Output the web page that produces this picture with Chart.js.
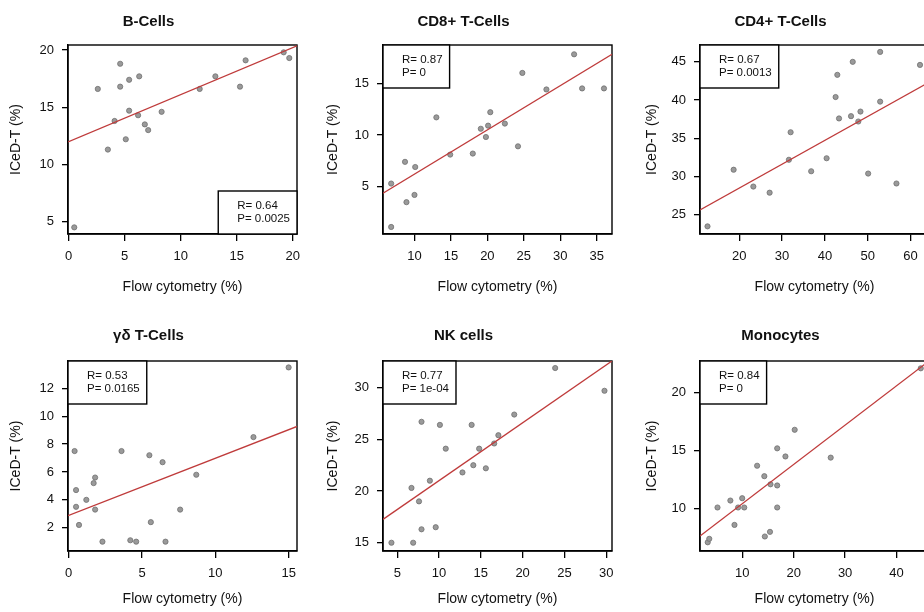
<!DOCTYPE html>
<html>
<head>
<meta charset="utf-8">
<script src="https://cdn.jsdelivr.net/npm/chart.js@4.4.1/dist/chart.umd.min.js"></script>
<style>
  body { margin: 0; width: 924px; height: 612px; overflow: hidden; background: #fff; position: relative; }
  canvas { position: absolute; }
</style>
</head>
<body>
<canvas id="p0" width="316" height="306"></canvas>
<canvas id="p1" width="316" height="306"></canvas>
<canvas id="p2" width="316" height="306"></canvas>
<canvas id="p3" width="316" height="306"></canvas>
<canvas id="p4" width="316" height="306"></canvas>
<canvas id="p5" width="316" height="306"></canvas>
<script>
// panel titles
const titles = ['B-Cells', 'CD8+ T-Cells', 'CD4+ T-Cells', 'γδ T-Cells', 'NK cells', 'Monocytes'];

// flow cytometry (x) vs ICeD-T (y)
const bcellX = [0.5, 2.6, 4.6, 4.6, 5.4, 6.3, 4.1, 3.5, 5.4, 5.1, 6.2, 6.8, 7.1, 8.3, 11.7, 13.1, 15.3, 15.8, 19.2, 19.7];
const bcellY = [4.5, 16.6, 18.8, 16.8, 17.4, 17.7, 13.8, 11.3, 14.7, 12.2, 14.3, 13.5, 13.0, 14.6, 16.6, 17.7, 16.8, 19.1, 19.8, 19.3];

const cd8X = [6.8, 6.8, 8.7, 8.9, 10.1, 10.0, 13.0, 14.9, 18.0, 19.1, 19.8, 20.1, 20.4, 22.4, 24.2, 24.8, 28.1, 31.9, 33.0, 36.0];
const cd8Y = [1.1, 5.3, 7.4, 3.5, 6.9, 4.2, 11.7, 8.1, 8.2, 10.6, 9.8, 10.9, 12.2, 11.1, 8.9, 16.0, 14.4, 17.8, 14.5, 14.5];

const cd4X = [12.6, 18.7, 23.3, 27.1, 31.6, 32.0, 36.8, 40.4, 42.5, 42.9, 43.3, 46.5, 46.1, 47.8, 48.3, 50.1, 52.9, 52.9, 56.7, 62.2];
const cd4Y = [23.5, 30.9, 28.7, 27.9, 32.2, 35.8, 30.7, 32.4, 40.4, 43.3, 37.6, 45.0, 37.9, 37.2, 38.5, 30.4, 46.3, 39.8, 29.1, 44.6];

const gdX = [0.4, 0.5, 0.5, 0.7, 1.2, 1.7, 1.8, 1.8, 2.3, 3.6, 4.2, 4.6, 5.5, 5.6, 6.4, 6.6, 7.6, 8.7, 12.6, 15.0];
const gdY = [7.5, 4.7, 3.5, 2.2, 4.0, 5.2, 5.6, 3.3, 1.0, 7.5, 1.1, 1.0, 7.2, 2.4, 6.7, 1.0, 3.3, 5.8, 8.5, 13.5];

const nkX = [4.3, 6.9, 6.7, 7.6, 7.9, 7.9, 8.9, 9.6, 10.1, 10.8, 12.8, 13.9, 14.1, 14.8, 15.6, 16.6, 17.1, 19.0, 23.9, 29.8];
const nkY = [15.0, 15.0, 20.3, 19.0, 26.7, 16.3, 21.0, 16.5, 26.4, 24.1, 21.8, 26.4, 22.5, 24.1, 22.2, 24.6, 25.4, 27.4, 31.9, 29.7];

const monoX = [3.3, 3.6, 5.2, 7.7, 8.5, 9.2, 10.0, 10.4, 12.9, 14.3, 14.4, 15.4, 15.5, 16.8, 16.8, 16.8, 18.4, 20.2, 27.2, 44.7];
const monoY = [7.1, 7.4, 10.1, 10.7, 8.6, 10.1, 10.9, 10.1, 13.7, 12.8, 7.6, 8.0, 12.1, 15.2, 12.0, 10.1, 14.5, 16.8, 14.4, 22.1];

const seriesX = [bcellX, cd8X, cd4X, gdX, nkX, monoX];
const seriesY = [bcellY, cd8Y, cd4Y, gdY, nkY, monoY];

// fitted lines (intercept, slope) and stats
const fitIntercept = [12.0, 1.93, 22.26, 2.88, 15.42, 7.03];
const fitSlope = [0.41, 0.428, 0.312, 0.41, 0.559, 0.339];
const statR = ['0.64', '0.87', '0.67', '0.53', '0.77', '0.84'];
const statP = ['0.0025', '0', '0.0013', '0.0165', '1e-04', '0'];
const statCorner = ['bottomright', 'topleft', 'topleft', 'topleft', 'topleft', 'topleft'];

// tick values and axis limits
const xTicks = [[0, 5, 10, 15, 20], [10, 15, 20, 25, 30, 35], [20, 30, 40, 50, 60], [0, 5, 10, 15], [5, 10, 15, 20, 25, 30], [10, 20, 30, 40]];
const yTicks = [[5, 10, 15, 20], [5, 10, 15], [25, 30, 35, 40, 45], [2, 4, 6, 8, 10, 12], [15, 20, 25, 30], [10, 15, 20]];
const xLimits = [[-0.06, 20.39], [5.68, 37.1], [10.85, 64.3], [-0.05, 15.57], [3.29, 30.7], [1.8, 46.3]];
const yLimits = [[3.92, 20.44], [0.42, 18.7], [22.5, 47.2], [0.33, 13.96], [14.2, 32.58], [6.35, 22.73]];

const FONT = '"Liberation Sans", Arial, Helvetica, sans-serif';
const lefts = [0, 315, 632];
const tops = [0, 312];
const rowLayout = [
  { titleTop: 13, titleBottom: 14, bottom: 234 },
  { titleTop: 15, titleBottom: 16, bottom: 239 }
];
const yTitlePad = [8, 10, 12];

// box around the plot region + R/P legend box
const framePlugin = {
  id: 'frame',
  beforeDatasetsDraw(chart) {
    const { ctx, chartArea: a } = chart;
    ctx.save();
    ctx.strokeStyle = '#000';
    ctx.lineWidth = 1.4;
    ctx.strokeRect(a.left, a.top, a.right - a.left, a.bottom - a.top);
    ctx.restore();
  },
  afterDatasetsDraw(chart, args, opts) {
    const { ctx, chartArea: a } = chart;
    ctx.save();
    ctx.font = '11.5px ' + FONT;
    const lines = opts.lines;
    const tw = Math.max(...lines.map(l => ctx.measureText(l).width));
    const w = tw + 26, h = 43;
    const x = opts.corner === 'bottomright' ? a.right - w : a.left;
    const y = opts.corner === 'bottomright' ? a.bottom - h : a.top;
    ctx.fillStyle = '#fff';
    ctx.fillRect(x, y, w, h);
    ctx.strokeStyle = '#000';
    ctx.lineWidth = 1.4;
    ctx.strokeRect(x, y, w, h);
    ctx.fillStyle = '#111';
    ctx.textBaseline = 'middle';
    ctx.fillText(lines[0], x + 19, y + h / 2 - 6.5);
    ctx.fillText(lines[1], x + 19, y + h / 2 + 6.5);
    ctx.restore();
  }
};

titles.forEach((title, i) => {
  const row = Math.floor(i / 3), col = i % 3;
  const lay = rowLayout[row];
  const canvas = document.getElementById('p' + i);
  canvas.style.left = lefts[col] + 'px';
  canvas.style.top = tops[row] + 'px';

  const pts = seriesX[i].map((x, k) => ({ x: x, y: seriesY[i][k] }));
  const [x0, x1] = xLimits[i];
  const fit = [x0, x1].map(x => ({ x: x, y: fitIntercept[i] + fitSlope[i] * x }));

  new Chart(canvas, {
    type: 'scatter',
    data: {
      datasets: [
        { data: fit, showLine: true, borderColor: '#bf3b3b', borderWidth: 1.3, pointRadius: 0, pointHoverRadius: 0 },
        { data: pts, pointRadius: 2.6, backgroundColor: '#9a9a9a', borderColor: '#707070', borderWidth: 0.8 }
      ]
    },
    options: {
      responsive: false,
      animation: false,
      devicePixelRatio: 1,
      layout: { padding: { left: 0, right: 19, top: 0, bottom: 0 } },
      plugins: {
        legend: { display: false },
        tooltip: { enabled: false },
        title: {
          display: true,
          text: title,
          color: '#111',
          font: { family: FONT, size: 15, weight: 'bold' },
          padding: { top: lay.titleTop, bottom: lay.titleBottom }
        },
        frame: { lines: ['R= ' + statR[i], 'P= ' + statP[i]], corner: statCorner[i] }
      },
      scales: {
        x: {
          type: 'linear',
          position: 'bottom',
          min: x0,
          max: x1,
          afterBuildTicks: s => { s.ticks = xTicks[i].map(v => ({ value: v })); },
          afterFit: s => { s.height = 306 - lay.bottom; },
          grid: { drawOnChartArea: false, drawTicks: true, tickLength: 7, color: '#000', lineWidth: 1.3 },
          border: { display: true, color: '#000', width: 1.4 },
          ticks: { color: '#111', padding: 8, maxRotation: 0, font: { family: FONT, size: 13 } },
          title: { display: true, text: 'Flow cytometry (%)', color: '#111', font: { family: FONT, size: 14 }, padding: { top: 0, bottom: 10 } }
        },
        y: {
          type: 'linear',
          position: 'left',
          min: yLimits[i][0],
          max: yLimits[i][1],
          afterBuildTicks: s => { s.ticks = yTicks[i].map(v => ({ value: v })); },
          afterFit: s => { s.width = 68; },
          grid: { drawOnChartArea: false, drawTicks: true, tickLength: 6, color: '#000', lineWidth: 1.3 },
          border: { display: true, color: '#000', width: 1.4 },
          ticks: { color: '#111', padding: 8, font: { family: FONT, size: 13 } },
          title: { display: true, text: 'ICeD-T (%)', color: '#111', font: { family: FONT, size: 14 }, padding: { top: yTitlePad[col], bottom: 0 } }
        }
      }
    },
    plugins: [framePlugin]
  });
});
</script>
</body>
</html>
